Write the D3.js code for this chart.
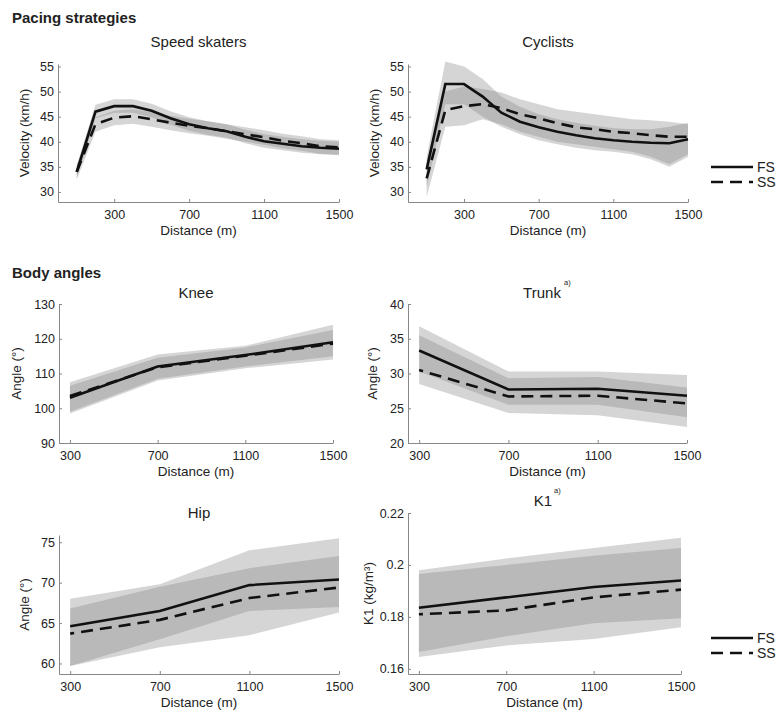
<!DOCTYPE html>
<html>
<head>
<meta charset="utf-8">
<script src="https://cdn.jsdelivr.net/npm/d3@7"></script>
<style>
  body { margin: 0; background: #fff; }
  text { font-family: "Liberation Sans", Arial, sans-serif; fill: #222; }
</style>
</head>
<body>
<script>
// pacing: distance every 100 m
const paceDist = [100, 200, 300, 400, 500, 600, 700, 800, 900, 1000, 1100, 1200, 1300, 1400, 1500];

const skateFS   = [34, 46.0, 47.1, 47.1, 46.2, 44.7, 43.5, 42.7, 42.1, 41.0, 40.1, 39.6, 39.1, 38.8, 38.6];
const skateSS   = [34, 43.5, 44.8, 45.1, 44.5, 43.8, 43.2, 42.7, 42.1, 41.5, 40.9, 40.2, 39.7, 39.1, 38.9];
const skateFSlo = [32.7, 44.7, 45.8, 45.8, 44.9, 43.4, 42.2, 41.4, 40.8, 39.7, 38.8, 38.3, 37.8, 37.5, 37.3];
const skateFShi = [35.3, 47.4, 48.5, 48.5, 47.6, 46.1, 44.9, 44.1, 43.5, 42.4, 41.5, 41.0, 40.5, 40.2, 40.0];
const skateSSlo = [32.5, 42.0, 43.3, 43.6, 43.0, 42.3, 41.7, 41.2, 40.6, 40.0, 39.4, 38.7, 38.2, 37.6, 37.4];
const skateSShi = [35.4, 44.9, 46.2, 46.5, 45.9, 45.2, 44.6, 44.1, 43.5, 42.9, 42.3, 41.6, 41.1, 40.5, 40.3];

const cycleFS   = [34.5, 51.5, 51.5, 49.0, 45.8, 44.0, 42.9, 42.0, 41.3, 40.7, 40.3, 40.0, 39.8, 39.7, 40.5];
const cycleSS   = [32.7, 46.3, 47.1, 47.5, 46.7, 45.5, 44.7, 43.7, 42.9, 42.5, 42.0, 41.7, 41.3, 41.0, 41.0];
const cycleFSlo = [31, 47.5, 47.5, 45, 43, 41.5, 40.3, 39.5, 38.8, 38.3, 38, 37.5, 36.5, 35, 37];
const cycleFShi = [37, 56, 55, 52.5, 49, 47, 45.5, 44.5, 43.8, 43.2, 42.7, 42.5, 42.5, 43, 43.8];
const cycleSSlo = [29, 43, 43.3, 44.5, 43.5, 42, 41, 40, 39.5, 39, 38.5, 38, 37, 35.5, 37.5];
const cycleSShi = [36, 50, 51, 50.5, 49.8, 48.5, 47.5, 46.5, 46, 45.5, 45, 44.5, 44.3, 44, 43.5];

// body angles: measured at 4 distances
const angleDist = [300, 700, 1100, 1500];

const kneeFS   = [103, 112, 115.3, 119];
const kneeSS   = [103.5, 111.8, 115.1, 118.6];
const kneeFSlo = [99, 108.5, 112, 115];
const kneeFShi = [107.5, 115.5, 118, 124];
const kneeSSlo = [98.5, 108, 111.5, 114];
const kneeSShi = [106.5, 114.5, 117.5, 122.5];

const trunkFS   = [33.3, 27.7, 27.8, 26.8];
const trunkSS   = [30.5, 26.7, 26.8, 25.7];
const trunkFSlo = [30.3, 25.5, 25.5, 23.7];
const trunkFShi = [36.8, 30.3, 30.3, 29.8];
const trunkSSlo = [28.5, 24.3, 24, 22.3];
const trunkSShi = [35.5, 29.3, 29.5, 28];

const hipFS   = [64.6, 66.5, 69.7, 70.4];
const hipSS   = [63.7, 65.4, 68.1, 69.4];
const hipFSlo = [59.7, 63, 66.5, 67];
const hipFShi = [68, 69.8, 74, 75.5];
const hipSSlo = [59.7, 62, 63.5, 66.3];
const hipSShi = [66.8, 69.5, 71.8, 73.3];

const k1FS   = [0.1835, 0.1875, 0.1915, 0.194];
const k1SS   = [0.181, 0.1825, 0.1875, 0.1905];
const k1FSlo = [0.1665, 0.1725, 0.1775, 0.1795];
const k1FShi = [0.198, 0.2025, 0.2065, 0.2105];
const k1SSlo = [0.1645, 0.169, 0.1715, 0.176];
const k1SShi = [0.1965, 0.2, 0.2035, 0.2065];

const distTicks = [300, 700, 1100, 1500];

const svg = d3.select('body').append('svg')
  .attr('width', 783)
  .attr('height', 716);

const axisColor = '#888';
const bandColor = '#808080';
const bandOpacity = 0.33;

function drawPanel(p) {
  const x = d3.scaleLinear().domain(p.xDomain).range([p.left, p.right]);
  const y = d3.scaleLinear().domain(p.yDomain).range([p.bottom, p.top]);
  const g = svg.append('g');

  const band = d3.area()
    .x(d => x(d[0]))
    .y0(d => y(d[1]))
    .y1(d => y(d[2]));

  [[p.fsLo, p.fsHi], [p.ssLo, p.ssHi]].forEach(([lo, hi]) => {
    g.append('path')
      .datum(d3.zip(p.dist, lo, hi))
      .attr('d', band)
      .attr('fill', bandColor)
      .attr('fill-opacity', bandOpacity);
  });

  const line = d3.line().x(d => x(d[0])).y(d => y(d[1]));

  g.append('path')
    .datum(d3.zip(p.dist, p.ss))
    .attr('d', line)
    .attr('fill', 'none')
    .attr('stroke', '#111')
    .attr('stroke-width', 2.6)
    .attr('stroke-dasharray', '12,7')
    .attr('stroke-dashoffset', p.dashOffset || 0);

  g.append('path')
    .datum(d3.zip(p.dist, p.fs))
    .attr('d', line)
    .attr('fill', 'none')
    .attr('stroke', '#111')
    .attr('stroke-width', 2.6);

  const xAxis = d3.axisBottom(x).tickValues(distTicks)
    .tickSizeInner(-3).tickSizeOuter(0).tickPadding(8)
    .tickFormat(d => String(d));
  const yAxis = d3.axisLeft(y).tickValues(p.yTicks)
    .tickSizeInner(-3).tickSizeOuter(0).tickPadding(4)
    .tickFormat(d => String(d));

  const gx = g.append('g')
    .attr('transform', 'translate(0,' + p.bottom + ')')
    .call(xAxis);
  const gy = g.append('g')
    .attr('transform', 'translate(' + p.left + ',0)')
    .call(yAxis);

  [gx, gy].forEach(a => {
    a.select('.domain').attr('stroke', axisColor);
    a.selectAll('.tick line').attr('stroke', axisColor);
    a.selectAll('.tick text')
      .style('font-family', '"Liberation Sans", Arial, sans-serif')
      .style('font-size', '12.5px')
      .attr('fill', '#333');
  });

  // title
  const cx = (p.left + p.right) / 2;
  g.append('text')
    .attr('x', p.titleX || cx)
    .attr('y', p.titleY)
    .attr('text-anchor', 'middle')
    .style('font-size', '15px')
    .text(p.title);
  if (p.sup) {
    g.append('text')
      .attr('x', p.supX)
      .attr('y', p.titleY - 13)
      .style('font-size', '7.5px')
      .text(p.sup);
  }

  g.append('text')
    .attr('x', cx)
    .attr('y', p.bottom + 33)
    .attr('text-anchor', 'middle')
    .style('font-size', '13.5px')
    .attr('fill', '#333')
    .text('Distance (m)');

  g.append('text')
    .attr('transform', 'translate(' + p.yLabelX + ',' + (p.top + p.bottom) / 2 + ') rotate(-90)')
    .attr('text-anchor', 'middle')
    .style('font-size', '13.5px')
    .attr('fill', '#333')
    .text(p.yLabel);
}

function drawLegend(top) {
  const lg = svg.append('g');
  [['FS', null], ['SS', '12,7']].forEach(([name, dash], i) => {
    const yy = top + i * 15;
    lg.append('line')
      .attr('x1', 711).attr('x2', 753)
      .attr('y1', yy).attr('y2', yy)
      .attr('stroke', '#111')
      .attr('stroke-width', 2.6)
      .attr('stroke-dasharray', dash);
    lg.append('text')
      .attr('x', 757)
      .attr('y', yy + 5)
      .style('font-size', '14px')
      .text(name);
  });
}

// section headings
svg.append('text').attr('x', 12).attr('y', 23)
  .style('font-size', '15px').style('font-weight', 'bold').text('Pacing strategies');
svg.append('text').attr('x', 12).attr('y', 278)
  .style('font-size', '15px').style('font-weight', 'bold').text('Body angles');

drawPanel({
  title: 'Speed skaters', titleY: 47,
  left: 58, right: 339, top: 64, bottom: 202,
  xDomain: [0, 1500], yDomain: [28, 55.5], yTicks: [30, 35, 40, 45, 50, 55],
  dist: paceDist, fs: skateFS, ss: skateSS,
  fsLo: skateFSlo, fsHi: skateFShi, ssLo: skateSSlo, ssHi: skateSShi,
  yLabel: 'Velocity (km/h)', yLabelX: 29
});

drawPanel({
  title: 'Cyclists', titleY: 47,
  left: 408, right: 688, top: 64, bottom: 202,
  xDomain: [0, 1500], yDomain: [28, 55.5], yTicks: [30, 35, 40, 45, 50, 55],
  dist: paceDist, fs: cycleFS, ss: cycleSS,
  fsLo: cycleFSlo, fsHi: cycleFShi, ssLo: cycleSSlo, ssHi: cycleSShi,
  yLabel: 'Velocity (km/h)', yLabelX: 379
});

drawPanel({
  title: 'Knee', titleY: 298,
  left: 59, right: 333, top: 304, bottom: 443,
  xDomain: [250, 1500], yDomain: [90, 130], yTicks: [90, 100, 110, 120, 130],
  dist: angleDist, fs: kneeFS, ss: kneeSS,
  fsLo: kneeFSlo, fsHi: kneeFShi, ssLo: kneeSSlo, ssHi: kneeSShi,
  yLabel: 'Angle (°)', yLabelX: 21
});

drawPanel({
  title: 'Trunk', titleY: 298, titleX: 542, sup: 'a)', supX: 564,
  left: 408, right: 687, top: 304, bottom: 443,
  xDomain: [250, 1500], yDomain: [20, 40], yTicks: [20, 25, 30, 35, 40],
  dist: angleDist, fs: trunkFS, ss: trunkSS, dashOffset: 8,
  fsLo: trunkFSlo, fsHi: trunkFShi, ssLo: trunkSSlo, ssHi: trunkSShi,
  yLabel: 'Angle (°)', yLabelX: 377
});

drawPanel({
  title: 'Hip', titleY: 518,
  left: 59, right: 339, top: 535, bottom: 674,
  xDomain: [250, 1500], yDomain: [58.7, 75.9], yTicks: [60, 65, 70, 75],
  dist: angleDist, fs: hipFS, ss: hipSS, dashOffset: 8,
  fsLo: hipFSlo, fsHi: hipFShi, ssLo: hipSSlo, ssHi: hipSShi,
  yLabel: 'Angle (°)', yLabelX: 29
});

drawPanel({
  title: 'K1', titleY: 506, titleX: 543, sup: 'a)', supX: 554,
  left: 408, right: 681, top: 513, bottom: 674,
  xDomain: [250, 1500], yDomain: [0.158, 0.22], yTicks: [0.16, 0.18, 0.2, 0.22],
  dist: angleDist, fs: k1FS, ss: k1SS, dashOffset: 8,
  fsLo: k1FSlo, fsHi: k1FShi, ssLo: k1SSlo, ssHi: k1SShi,
  yLabel: 'K1 (kg/m³)', yLabelX: 373
});

drawLegend(167);
drawLegend(638);
</script>
</body>
</html>
